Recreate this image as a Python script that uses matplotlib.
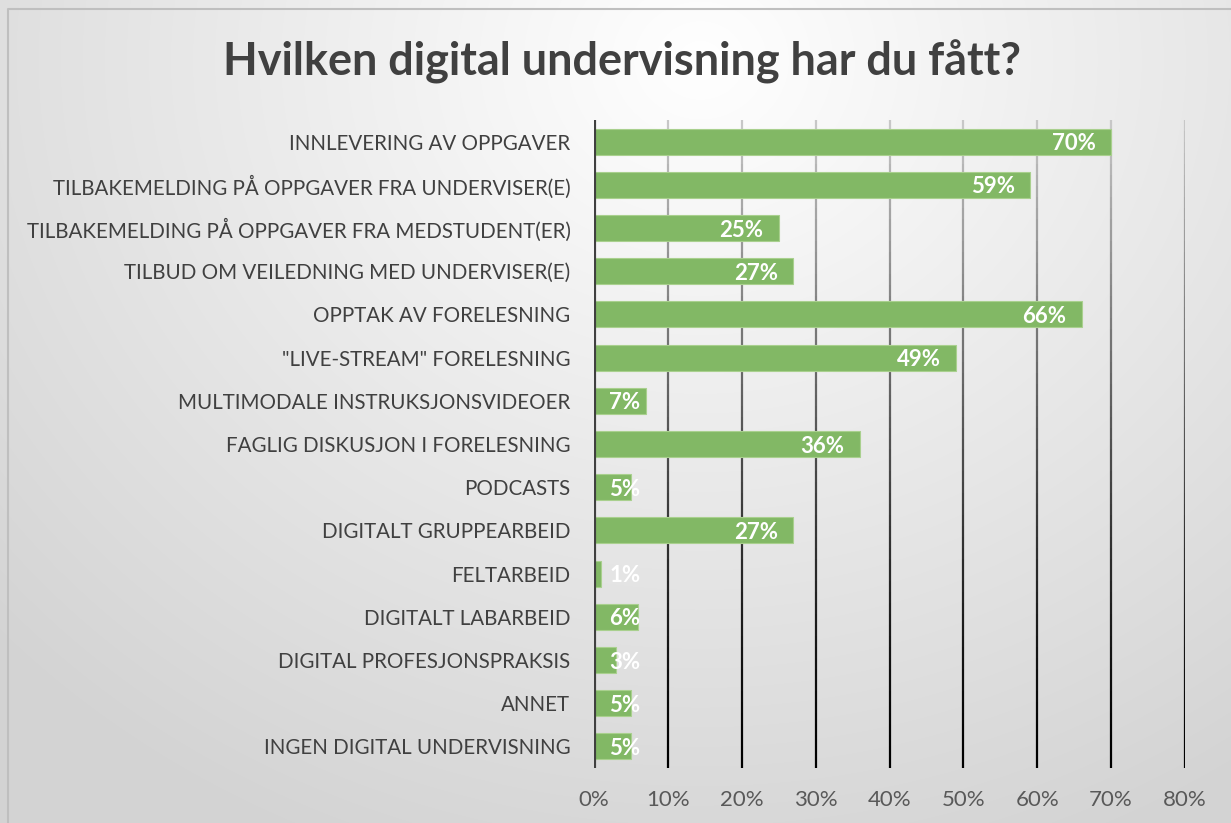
import numpy as np
import matplotlib.pyplot as plt
from matplotlib.collections import LineCollection
from matplotlib.lines import Line2D

plt.rcParams['font.family'] = ['Lato', 'DejaVu Sans']

kategorier = [
    'INNLEVERING AV OPPGAVER',
    'TILBAKEMELDING PÅ OPPGAVER FRA UNDERVISER(E)',
    'TILBAKEMELDING PÅ OPPGAVER FRA MEDSTUDENT(ER)',
    'TILBUD OM VEILEDNING MED UNDERVISER(E)',
    'OPPTAK AV FORELESNING',
    '"LIVE-STREAM" FORELESNING',
    'MULTIMODALE INSTRUKSJONSVIDEOER',
    'FAGLIG DISKUSJON I FORELESNING',
    'PODCASTS',
    'DIGITALT GRUPPEARBEID',
    'FELTARBEID',
    'DIGITALT LABARBEID',
    'DIGITAL PROFESJONSPRAKSIS',
    'ANNET',
    'INGEN DIGITAL UNDERVISNING',
]
andel = [0.70, 0.59, 0.25, 0.27, 0.66, 0.49, 0.07, 0.36, 0.05, 0.27, 0.01, 0.06, 0.03, 0.05, 0.05]
x_ticks = [0, 0.1, 0.2, 0.3, 0.4, 0.5, 0.6, 0.7, 0.8]

W, H = 1231, 823
fig = plt.figure(figsize=(W / 100, H / 100), dpi=100)

# bakgrunn med gradient
bg = fig.add_axes([0, 0, 1, 1])
yy, xx = np.mgrid[0:H, 0:W]
d = np.sqrt(((xx - 700) / 900.0) ** 2 + ((yy - 60) / 800.0) ** 2)
g = np.clip(1.0 - 0.16 * d, 0.83, 1.0)
bg.imshow(np.dstack([g, g, g]), extent=[0, W, H, 0], aspect='auto')
bg.set_xlim(0, W)
bg.set_ylim(H, 0)
bg.axis('off')
bg.add_line(Line2D([8, 8, W], [H, 9, 9], color='#bfbfbf', lw=1.5))

ax = fig.add_axes([594 / W, 55 / H, (1185 - 594) / W, (768 - 120) / H])
ax.patch.set_alpha(0)
y = np.arange(len(kategorier))
ax.barh(y, andel, height=0.6, color='#82b865', edgecolor='#a9d08e', lw=0.8, zorder=3)
ax.set_xlim(0, 0.8)
ax.set_ylim(len(kategorier) - 0.5, -0.5)

# gridlinjer som går fra lys grå til svart
for t in x_ticks[1:]:
    ys = np.linspace(-0.5, len(kategorier) - 0.5, 60)
    pts = np.array([[t, v] for v in ys])
    segs = np.stack([pts[:-1], pts[1:]], axis=1)
    f = np.linspace(0, 1, len(segs))
    c = 0.78 * (1 - f) ** 1.3
    cols = np.stack([c, c, c], axis=1)
    ax.add_collection(LineCollection(segs, colors=cols, lw=1.6, zorder=2))
ax.axvline(0, color='#404040', lw=3, zorder=4)

for s in ax.spines.values():
    s.set_visible(False)
ax.set_yticks(y)
ax.set_yticklabels(kategorier, fontsize=14.8, color='#404040')
ax.set_xticks(x_ticks)
ax.set_xticklabels([f'{int(round(t * 100))}%' for t in x_ticks], fontsize=16, color='#595959')
ax.tick_params(length=0)
ax.tick_params(axis='y', pad=17)
ax.tick_params(axis='x', pad=16)

for i, v in enumerate(andel):
    lab = f'{int(round(v * 100))}%'
    if v > 0.07:
        ax.annotate(lab, (v, i), xytext=(-11, -1.5), textcoords='offset points',
                    ha='right', va='center', color='white', fontsize=16,
                    fontweight='bold', zorder=5)
    else:
        ax.annotate(lab, (0, i), xytext=(11, -1.5), textcoords='offset points',
                    ha='left', va='center', color='white', fontsize=16,
                    fontweight='bold', zorder=5)

fig.text(622 / W, 1 - 62 / H, 'Hvilken digital undervisning har du fått?', ha='center', va='center',
         fontsize=32.4, fontweight='bold', color='#404040')

fig.savefig('out.png', dpi=100)
